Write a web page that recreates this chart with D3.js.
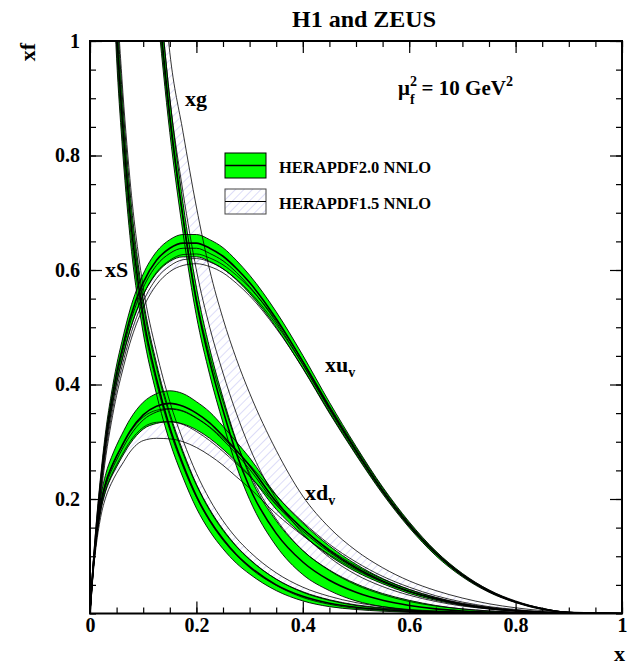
<!DOCTYPE html>
<html><head><meta charset="utf-8">
<script src="https://cdn.jsdelivr.net/npm/d3@7"></script>
<style>body{margin:0;background:#fff}svg text{font-family:"Liberation Serif","Times New Roman",serif;font-weight:bold;fill:#000}</style>
</head><body><svg id="c" width="638" height="670"></svg>
<script>
// x grid shared by all curves
const xGrid = [0, .005, .01, .02, .03, .04, .05, .06, .075, .1, .125, .15, .175, .2, .225, .25, .275, .3, .35, .4, .45, .5, .55, .6, .65, .7, .75, .8, .85, .9, 1];

// xu_v
const uv20c = [0, .07, .13, .23, .31, .37, .42, .46, .515, .578, .617, .638, .647, .647, .638, .624, .603, .578, .515, .44, .36, .285, .215, .155, .105, .067, .039, .02, .008, .002, 0];
const uv20i = [0, .067, .126, .224, .303, .362, .412, .452, .506, .569, .608, .629, .638, .638, .629, .616, .596, .571, .509, .435, .356, .282, .213, .153, .104, .066, .038, .02, .008, .002, 0];
const uv20u = [0, .076, .138, .24, .322, .383, .434, .475, .53, .593, .632, .653, .662, .662, .653, .639, .617, .591, .527, .451, .369, .292, .221, .16, .109, .07, .041, .021, .009, .002, 0];
const uv20l = [0, .064, .122, .218, .296, .354, .403, .442, .494, .556, .594, .615, .623, .623, .615, .602, .583, .559, .5, .428, .35, .277, .209, .15, .101, .064, .037, .019, .007, .002, 0];
const uv15c = [0, .062, .118, .21, .285, .343, .392, .431, .483, .545, .585, .607, .618, .62, .614, .602, .584, .562, .505, .435, .358, .284, .215, .155, .106, .068, .04, .021, .009, .002, 0];
const uv15u = [0, .066, .124, .218, .294, .353, .402, .441, .494, .556, .596, .617, .627, .628, .621, .609, .591, .569, .512, .441, .363, .289, .219, .158, .108, .069, .041, .022, .009, .002, 0];
const uv15l = [0, .058, .112, .202, .276, .333, .381, .42, .472, .534, .574, .597, .608, .611, .606, .595, .577, .555, .498, .429, .352, .279, .211, .152, .104, .066, .039, .02, .008, .002, 0];

// xd_v
const dv20c = [0, .07, .12, .19, .23, .255, .275, .293, .318, .347, .362, .367, .362, .35, .333, .31, .285, .258, .195, .148, .11, .08, .057, .039, .026, .016, .009, .005, .002, .001, 0];
const dv20i = [0, .068, .117, .185, .224, .249, .268, .286, .31, .338, .352, .357, .353, .341, .325, .303, .279, .252, .19, .144, .107, .078, .055, .038, .025, .015, .009, .005, .002, .001, 0];
const dv20u = [0, .075, .128, .202, .245, .272, .294, .313, .339, .369, .384, .389, .384, .37, .352, .327, .3, .272, .207, .158, .118, .086, .061, .042, .028, .017, .01, .005, .002, .001, 0];
const dv20l = [0, .065, .112, .178, .215, .238, .256, .273, .296, .322, .332, .335, .331, .321, .306, .287, .265, .241, .182, .137, .101, .073, .052, .035, .023, .014, .008, .004, .002, .001, 0];
const dv15c = [0, .066, .113, .179, .217, .241, .26, .277, .3, .325, .334, .335, .33, .318, .302, .283, .262, .24, .19, .148, .112, .083, .06, .042, .028, .018, .011, .006, .003, .001, 0];
const dv15u = [0, .07, .12, .19, .23, .255, .275, .292, .316, .343, .355, .358, .354, .342, .326, .306, .284, .26, .206, .16, .121, .09, .065, .046, .031, .02, .012, .007, .003, .001, 0];
const dv15l = [0, .062, .106, .168, .204, .227, .245, .26, .282, .302, .306, .305, .3, .29, .276, .259, .239, .219, .174, .136, .103, .076, .055, .038, .026, .016, .01, .005, .002, .001, 0];

// xS
const sea20c = [6, 3.5, 2.8, 2.0, 1.55, 1.25, 1.02, .87, .7, .52, .41, .325, .26, .205, .163, .13, .103, .082, .05, .03, .018, .011, .007, .004, .0025, .0015, .001, .0005, .0002, .0001, 0];
const sea20u = [6.3, 3.7, 2.95, 2.1, 1.63, 1.31, 1.07, .915, .74, .55, .437, .35, .283, .226, .182, .147, .118, .095, .06, .038, .024, .015, .01, .006, .0038, .0023, .0015, .0008, .0003, .0001, 0];
const sea20l = [5.7, 3.3, 2.65, 1.9, 1.47, 1.19, .97, .825, .66, .49, .383, .3, .237, .184, .144, .113, .088, .069, .04, .022, .012, .007, .004, .002, .0012, .0007, .0004, .0002, .0001, 0, 0];
const sea15c = [6.2, 3.6, 2.85, 2.03, 1.57, 1.27, 1.04, .89, .72, .54, .43, .345, .279, .224, .18, .145, .117, .094, .06, .037, .023, .014, .009, .005, .003, .0018, .001, .0005, .0002, .0001, 0];
const sea15u = [6.5, 3.8, 3.0, 2.13, 1.65, 1.33, 1.09, .935, .76, .57, .457, .37, .302, .245, .199, .162, .132, .108, .071, .046, .03, .019, .012, .007, .0045, .0028, .0017, .0009, .0004, .0001, 0];
const sea15l = [5.9, 3.4, 2.7, 1.93, 1.49, 1.21, .99, .845, .68, .51, .403, .32, .256, .203, .161, .128, .102, .08, .049, .028, .016, .009, .006, .003, .0018, .001, .0005, .0002, .0001, 0, 0];

// xg
const g20c = [12, 8, 6, 4.3, 3.3, 2.7, 2.3, 2.0, 1.7, 1.33, 1.1, .87, .69, .545, .44, .355, .28, .22, .14, .09, .058, .037, .023, .014, .008, .0045, .0025, .0012, .0005, .0002, 0];
const g20u = [12.4, 8.3, 6.2, 4.45, 3.4, 2.78, 2.37, 2.06, 1.75, 1.37, 1.135, .9, .716, .57, .463, .377, .302, .241, .162, .11, .076, .052, .035, .023, .014, .008, .0045, .0023, .001, .0004, 0];
const g20l = [11.6, 7.7, 5.8, 4.15, 3.2, 2.62, 2.23, 1.94, 1.65, 1.29, 1.065, .84, .664, .52, .417, .333, .258, .199, .118, .068, .04, .022, .012, .006, .003, .0015, .0007, .0003, .0001, 0, 0];
const g15c = [12, 8.2, 6.2, 4.5, 3.45, 2.82, 2.4, 2.1, 1.78, 1.38, 1.14, .9, .735, .6, .5, .42, .35, .29, .2, .14, .098, .068, .047, .032, .021, .013, .008, .0045, .002, .0008, 0];
const g15u = [12.5, 8.6, 6.5, 4.7, 3.6, 2.95, 2.52, 2.2, 1.87, 1.5, 1.25, .98, .84, .71, .6, .515, .445, .385, .285, .205, .15, .11, .08, .057, .04, .027, .017, .01, .005, .002, 0];
const g15l = [11.8, 7.9, 5.95, 4.25, 3.28, 2.68, 2.28, 1.98, 1.68, 1.3, 1.08, .86, .69, .55, .45, .37, .3, .245, .165, .11, .075, .05, .033, .021, .013, .008, .0045, .0025, .001, .0004, 0];

const xTicks = [0, 0.2, 0.4, 0.6, 0.8, 1];
const xTickLabels = ["0", "0.2", "0.4", "0.6", "0.8", "1"];
const yTicks = [0.2, 0.4, 0.6, 0.8, 1];
const yTickLabels = ["0.2", "0.4", "0.6", "0.8", "1"];
const minorTicks = d3.range(0, 1.0001, 0.05);
const legendLabels = ["HERAPDF2.0 NNLO", "HERAPDF1.5 NNLO"];

const svg = d3.select("#c");
const L = 90, R = 622, T = 41, B = 613.5;
const x = d3.scaleLinear([0, 1], [L, R]);
const y = d3.scaleLinear([0, 1], [B, T]);

const defs = svg.append("defs");
defs.append("clipPath").attr("id", "clip").append("rect")
  .attr("x", L).attr("y", T).attr("width", R - L).attr("height", B - T);
const pat = defs.append("pattern").attr("id", "hatch").attr("patternUnits", "userSpaceOnUse")
  .attr("width", 6).attr("height", 6).attr("patternTransform", "rotate(45)");
pat.append("line").attr("x1", 0).attr("y1", 0).attr("x2", 0).attr("y2", 6)
  .attr("stroke", "#b4b4f0").attr("stroke-width", 0.9);

const sets = {
  uv: {c20: uv20c, i20: uv20i, u20: uv20u, l20: uv20l, c15: uv15c, u15: uv15u, l15: uv15l},
  dv: {c20: dv20c, i20: dv20i, u20: dv20u, l20: dv20l, c15: dv15c, u15: dv15u, l15: dv15l},
  sea: {c20: sea20c, u20: sea20u, l20: sea20l, c15: sea15c, u15: sea15u, l15: sea15l},
  g: {c20: g20c, u20: g20u, l20: g20l, c15: g15c, u15: g15u, l15: g15l}
};
const order = ["g", "sea", "dv", "uv"];

const area = (lo, hi) => d3.area().x((d, i) => x(xGrid[i])).y0((d, i) => y(lo[i])).y1((d, i) => y(hi[i])).curve(d3.curveMonotoneX)(xGrid);
const line = (v) => d3.line().x((d, i) => x(xGrid[i])).y((d, i) => y(v[i])).curve(d3.curveMonotoneX)(xGrid);

const plot = svg.append("g").attr("clip-path", "url(#clip)");
order.forEach(k => {
  const s = sets[k];
  plot.append("path").attr("d", area(s.l15, s.u15)).attr("fill", "url(#hatch)");
});
order.forEach(k => {
  const s = sets[k];
  plot.append("path").attr("d", area(s.l20, s.u20)).attr("fill", "#00ff00");
});
order.forEach(k => {
  const s = sets[k];
  [s.l15, s.u15, s.c15].forEach(v => plot.append("path").attr("d", line(v)).attr("fill", "none").attr("stroke", "#000").attr("stroke-width", 0.8));
  [s.l20, s.u20].forEach(v => plot.append("path").attr("d", line(v)).attr("fill", "none").attr("stroke", "#000").attr("stroke-width", 0.9));
  if (s.i20) plot.append("path").attr("d", line(s.i20)).attr("fill", "none").attr("stroke", "#000").attr("stroke-width", 0.9);
  plot.append("path").attr("d", line(s.c20)).attr("fill", "none").attr("stroke", "#000").attr("stroke-width", 1.6);
});

// axes (ticks inward)
const ax = svg.append("g");
ax.append("g").attr("transform", `translate(0,${B})`).call(d3.axisBottom(x).tickValues(minorTicks).tickSize(-6).tickFormat(""));
ax.append("g").attr("transform", `translate(0,${B})`).call(d3.axisBottom(x).tickValues(xTicks).tickSize(-12).tickPadding(4).tickFormat((d, i) => xTickLabels[i]));
ax.append("g").attr("transform", `translate(0,${T})`).call(d3.axisTop(x).tickValues(minorTicks).tickSize(-6).tickFormat(""));
ax.append("g").attr("transform", `translate(0,${T})`).call(d3.axisTop(x).tickValues(xTicks).tickSize(-12).tickFormat(""));
ax.append("g").attr("transform", `translate(${L},0)`).call(d3.axisLeft(y).tickValues(minorTicks).tickSize(-6).tickFormat(""));
ax.append("g").attr("transform", `translate(${L},0)`).call(d3.axisLeft(y).tickValues(yTicks).tickSize(-12).tickPadding(10).tickFormat((d, i) => yTickLabels[i]));
ax.append("g").attr("transform", `translate(${R},0)`).call(d3.axisRight(y).tickValues(minorTicks).tickSize(-6).tickFormat(""));
ax.append("g").attr("transform", `translate(${R},0)`).call(d3.axisRight(y).tickValues(yTicks).tickSize(-12).tickFormat(""));
ax.selectAll(".domain").remove();
ax.selectAll(".tick line").attr("stroke", "#000").attr("stroke-width", 1.2);
ax.selectAll(".tick text").attr("font-size", 20).attr("font-family", "Liberation Serif").attr("font-weight", "bold").attr("fill", "#000");
svg.append("rect").attr("x", L).attr("y", T).attr("width", R - L).attr("height", B - T)
  .attr("fill", "none").attr("stroke", "#000").attr("stroke-width", 2);

// texts
svg.append("text").attr("x", 364).attr("y", 27).attr("text-anchor", "middle").attr("font-size", 24).text("H1 and ZEUS");
svg.append("text").attr("transform", "translate(35,52) rotate(-90)").attr("text-anchor", "middle").attr("font-size", 22).text("xf");
svg.append("text").attr("x", 625).attr("y", 661).attr("text-anchor", "end").attr("font-size", 22).text("x");

const mu = svg.append("text").attr("x", 398).attr("y", 95).attr("font-size", 21);
mu.append("tspan").text("μ");
mu.append("tspan").attr("font-size", 14).attr("dy", -9).text("2");
mu.append("tspan").attr("font-size", 14).attr("dx", -7).attr("dy", 18).text("f");
mu.append("tspan").attr("dx", 7).attr("dy", -9).text("= 10 GeV");
mu.append("tspan").attr("font-size", 14).attr("dy", -9).text("2");

svg.append("text").attr("x", 185).attr("y", 106).attr("font-size", 22).text("xg");
svg.append("text").attr("x", 105).attr("y", 277).attr("font-size", 22).text("xS");
const tu = svg.append("text").attr("x", 325).attr("y", 372).attr("font-size", 22);
tu.append("tspan").text("xu");
tu.append("tspan").attr("font-size", 14).attr("dy", 5).text("v");
const td = svg.append("text").attr("x", 305).attr("y", 500).attr("font-size", 22);
td.append("tspan").text("xd");
td.append("tspan").attr("font-size", 14).attr("dy", 5).text("v");

// legend
const leg = svg.append("g");
[["#00ff00", 153], ["url(#hatch)", 189]].forEach(([f, yy], i) => {
  leg.append("rect").attr("x", 225).attr("y", yy).attr("width", 41).attr("height", 25)
    .attr("fill", f).attr("stroke", i === 0 ? "#000" : "#444").attr("stroke-width", 1);
  leg.append("line").attr("x1", 225).attr("x2", 266).attr("y1", yy + 12.5).attr("y2", yy + 12.5)
    .attr("stroke", "#000").attr("stroke-width", i === 0 ? 1.5 : 1);
  leg.append("text").attr("x", 279).attr("y", yy + 20).attr("font-size", 16.5).text(legendLabels[i]);
});
</script></body></html>
